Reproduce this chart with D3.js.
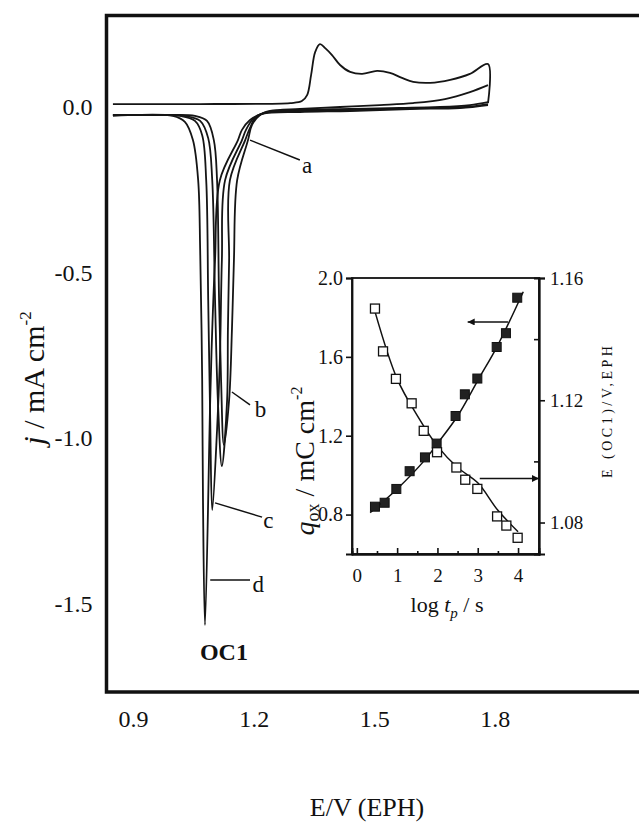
<!DOCTYPE html>
<html><head><meta charset="utf-8">
<script src="https://cdn.jsdelivr.net/npm/d3@7"></script>
<style>
body{margin:0;background:#fff}
svg{display:block}
text{font-family:"Liberation Serif","Times New Roman",serif;fill:#111}
</style>
</head><body><svg id="chart" width="639" height="823"></svg>
<script>
// ---------- main chart data ----------
const xTicks = [0.9, 1.2, 1.5, 1.8];
const yTicks = [0, -0.5, -1.0, -1.5];
const yTickLabels = ["0.0", "-0.5", "-1.0", "-1.5"];

// anodic sweep (E / V, j / mA cm-2)
const anodicSweep = [[0.850,0.009],[1.067,0.009],[1.291,0.012],[1.320,0.018],[1.333,0.036],[1.343,0.097],[1.353,0.166],[1.365,0.190],[1.378,0.178],[1.395,0.157],[1.415,0.127],[1.440,0.106],[1.470,0.100],[1.507,0.109],[1.539,0.103],[1.569,0.088],[1.597,0.076],[1.639,0.073],[1.689,0.082],[1.738,0.100],[1.783,0.130],[1.783,0.012]];

// cathodic sweeps a-d
const curveA = [[1.783,0.066],[1.738,0.045],[1.676,0.024],[1.597,0.012],[1.514,0.006],[1.415,0.000],[1.315,-0.006],[1.241,-0.012],[1.216,-0.024],[1.196,-0.054],[1.186,-0.100],[1.159,-0.221],[1.151,-0.462],[1.146,-0.674],[1.139,-0.885],[1.126,-1.021],[1.119,-0.825],[1.114,-0.583],[1.109,-0.221],[1.101,-0.100],[1.084,-0.042],[1.054,-0.027],[0.992,-0.024],[0.850,-0.024]];
const curveB = [[1.783,0.015],[1.738,0.006],[1.664,0.000],[1.564,-0.003],[1.440,-0.006],[1.315,-0.009],[1.236,-0.015],[1.206,-0.030],[1.191,-0.063],[1.179,-0.100],[1.141,-0.221],[1.139,-0.462],[1.136,-0.674],[1.134,-0.885],[1.121,-1.085],[1.111,-0.885],[1.104,-0.583],[1.097,-0.221],[1.087,-0.094],[1.067,-0.042],[1.029,-0.027],[0.942,-0.024],[0.850,-0.024]];
const curveC = [[1.783,0.009],[1.726,0.000],[1.614,-0.003],[1.465,-0.009],[1.315,-0.012],[1.228,-0.018],[1.199,-0.036],[1.181,-0.069],[1.171,-0.100],[1.129,-0.221],[1.121,-0.462],[1.116,-0.764],[1.109,-0.976],[1.097,-1.218],[1.092,-0.946],[1.087,-0.583],[1.082,-0.221],[1.072,-0.085],[1.054,-0.042],[1.017,-0.027],[0.917,-0.024],[0.850,-0.027]];
const curveD = [[1.783,0.006],[1.713,-0.003],[1.589,-0.006],[1.440,-0.012],[1.315,-0.015],[1.221,-0.021],[1.191,-0.039],[1.171,-0.069],[1.161,-0.100],[1.116,-0.221],[1.104,-0.462],[1.097,-0.674],[1.092,-0.885],[1.079,-1.565],[1.074,-1.187],[1.072,-0.825],[1.067,-0.432],[1.062,-0.221],[1.049,-0.100],[1.029,-0.045],[0.999,-0.027],[0.893,-0.024],[0.850,-0.024]];

// curve labels: pointer start, pointer end, label position (E, j)
const curveLabelNames = ["a","b","c","d"];
const pointerFrom = [[1.191,-0.100],[1.146,-0.861],[1.104,-1.196],[1.092,-1.429]];
const pointerTo   = [[1.315,-0.160],[1.191,-0.900],[1.221,-1.239],[1.191,-1.429]];
const labelAt     = [[1.320,-0.199],[1.203,-0.937],[1.224,-1.272],[1.197,-1.465]];
const peakLabel = "OC1";
const peakLabelAt = [1.126,-1.671];

// ---------- inset data ----------
const insetXTicks = [0,1,2,3,4];
const insetXMinor = [0.5,1.5,2.5,3.5];
const insetYLTicks = [0.8,1.2,1.6,2.0];
const insetYRTicks = [1.08,1.12,1.16];
const insetYRMinor = [1.10,1.14];
const logTp = [0.45,0.69,0.98,1.31,1.69,1.98,2.45,2.68,2.99,3.47,3.70,3.98];
const qOx = [0.84,0.86,0.93,1.02,1.09,1.16,1.30,1.41,1.49,1.65,1.72,1.90];
const logTpE = [0.45,0.65,0.97,1.36,1.66,1.99,2.47,2.69,2.99,3.48,3.71,3.99];
const eOC1 = [1.150,1.136,1.127,1.119,1.110,1.103,1.098,1.094,1.091,1.082,1.079,1.075];
const qFit = [[0.33,0.81],[1.0,0.93],[1.7,1.08],[2.0,1.16],[2.5,1.30],[3.0,1.48],[3.5,1.66],[4.13,1.93]];
const eFit = [[0.45,1.149],[1.0,1.127],[1.5,1.115],[2.0,1.105],[2.5,1.098],[3.0,1.093],[3.5,1.084],[4.0,1.077]];
const arrowLeft = [[3.75,1.777],[2.75,1.777]];
const arrowRight = [[3.05,1.0944],[4.52,1.0944]];

// ---------- drawing ----------
const svg = d3.select("#chart");
const defs = svg.append("defs");
defs.append("marker").attr("id","ah").attr("viewBox","0 0 10 10").attr("refX",10).attr("refY",5)
  .attr("markerWidth",10).attr("markerHeight",7).attr("markerUnits","userSpaceOnUse").attr("orient","auto")
  .append("path").attr("d","M0,0L10,5L0,10Z").attr("fill","#111");

const x = d3.scaleLinear().domain([0.834, 2.178]).range([106.5, 646.8]);
const y = d3.scaleLinear().domain([0.2765, -1.7674]).range([15.5, 692]);

const line = d3.line().x(d=>x(d[0])).y(d=>y(d[1])).curve(d3.curveCatmullRom.alpha(0.5));

[anodicSweep, curveA, curveB, curveC, curveD].forEach(c=>{
  svg.append("path").attr("d", line(c)).attr("fill","none").attr("stroke","#151515")
    .attr("stroke-width",1.8).attr("stroke-linejoin","round");
});

// frame
svg.append("rect").attr("x",x(0.834)).attr("y",y(0.2765))
  .attr("width",x(2.178)-x(0.834)).attr("height",y(-1.7674)-y(0.2765))
  .attr("fill","none").attr("stroke","#111").attr("stroke-width",3.5);

// axes
const serif = "'Liberation Serif','Times New Roman',serif";
const gx = svg.append("g").attr("transform",`translate(0,${y(-1.7674)})`)
  .call(d3.axisBottom(x).tickValues(xTicks).tickSize(0).tickFormat(d3.format(".1f")));
gx.select(".domain").remove();
gx.selectAll("text").attr("y",35).attr("dy",null).style("font-size","24px")
  .style("font-family",serif).attr("fill","#111");

const gy = svg.append("g").attr("transform",`translate(${x(0.834)},0)`)
  .call(d3.axisLeft(y).tickValues(yTicks).tickSize(0).tickFormat((d,i)=>yTickLabels[i]));
gy.select(".domain").remove();
gy.selectAll("text").attr("x",-14).style("font-size","24px")
  .style("font-family",serif).attr("fill","#111");

// axis titles
svg.append("text").attr("x",367).attr("y",816).attr("text-anchor","middle")
  .style("font-size","26px").text("E/V (EPH)");
const yt = svg.append("text").attr("transform","translate(44,378) rotate(-90)")
  .attr("text-anchor","middle").style("font-size","30px");
yt.append("tspan").style("font-style","italic").text("j");
yt.append("tspan").text(" / mA cm");
yt.append("tspan").attr("dy",-13).style("font-size","17px").text("-2");

// curve labels
curveLabelNames.forEach((n,i)=>{
  svg.append("line").attr("x1",x(pointerFrom[i][0])).attr("y1",y(pointerFrom[i][1]))
    .attr("x2",x(pointerTo[i][0])).attr("y2",y(pointerTo[i][1]))
    .attr("stroke","#111").attr("stroke-width",1.5);
  svg.append("text").attr("x",x(labelAt[i][0])).attr("y",y(labelAt[i][1]))
    .style("font-size","23px").text(n);
});
svg.append("text").attr("x",x(peakLabelAt[0])).attr("y",y(peakLabelAt[1]))
  .attr("text-anchor","middle").style("font-size","24px").style("font-weight","bold").text(peakLabel);

// ---------- inset ----------
const ix = d3.scaleLinear().domain([-0.12, 4.52]).range([352, 539]);
const iyL = d3.scaleLinear().domain([0.6, 2.0]).range([554, 278]);
const iyR = d3.scaleLinear().domain([1.0697, 1.16]).range([554, 278]);

const ins = svg.append("g");
ins.append("rect").attr("x",352).attr("y",278).attr("width",539-352).attr("height",554-278)
  .attr("fill","#fff").attr("stroke","#111").attr("stroke-width",1.8);

const gl = ins.append("g").attr("transform","translate(352,0)")
  .call(d3.axisLeft(iyL).tickValues(insetYLTicks).tickSize(6).tickPadding(3).tickFormat(d3.format(".1f")));
const gb = ins.append("g").attr("transform","translate(0,554)")
  .call(d3.axisBottom(ix).tickValues(insetXTicks).tickSize(-6).tickPadding(0).tickFormat(d3.format("d")));
gb.selectAll("text").attr("y",28).attr("dy",null);
const gbm = ins.append("g").attr("transform","translate(0,554)")
  .call(d3.axisBottom(ix).tickValues(insetXMinor).tickSize(-3).tickFormat(""));
const gr = ins.append("g").attr("transform","translate(539,0)")
  .call(d3.axisRight(iyR).tickValues(insetYRTicks).tickSize(6).tickPadding(5).tickFormat(d3.format(".2f")));
const grm = ins.append("g").attr("transform","translate(539,0)")
  .call(d3.axisRight(iyR).tickValues(insetYRMinor).tickSize(-5).tickFormat(""));
[gl,gb,gbm,gr,grm].forEach(g=>{
  g.select(".domain").attr("stroke","#111").attr("stroke-width",1.8);
  g.selectAll(".tick line").attr("stroke","#111").attr("stroke-width",1.6);
  g.selectAll("text").style("font-family",serif).attr("fill","#111");
});
gl.selectAll("text").style("font-size","20px");
gb.selectAll("text").style("font-size","19px");
gr.selectAll("text").style("font-size","19px");

const fitLine = (sy)=>d3.line().x(d=>ix(d[0])).y(d=>sy(d[1])).curve(d3.curveCatmullRom.alpha(0.5));
ins.append("path").attr("d",fitLine(iyL)(qFit)).attr("fill","none").attr("stroke","#111").attr("stroke-width",1.5);
ins.append("path").attr("d",fitLine(iyR)(eFit)).attr("fill","none").attr("stroke","#111").attr("stroke-width",1.5);

const sq = 9;
ins.selectAll("rect.filled").data(logTp.map((v,i)=>[v,qOx[i]])).join("rect").attr("class","filled")
  .attr("x",d=>ix(d[0])-sq/2).attr("y",d=>iyL(d[1])-sq/2).attr("width",sq).attr("height",sq)
  .attr("fill","#222").attr("stroke","#111").attr("stroke-width",1);
ins.selectAll("rect.open").data(logTpE.map((v,i)=>[v,eOC1[i]])).join("rect").attr("class","open")
  .attr("x",d=>ix(d[0])-sq/2).attr("y",d=>iyR(d[1])-sq/2).attr("width",sq).attr("height",sq)
  .attr("fill","#fff").attr("stroke","#111").attr("stroke-width",1.3);

ins.append("line").attr("x1",ix(arrowLeft[0][0])).attr("y1",iyL(arrowLeft[0][1]))
  .attr("x2",ix(arrowLeft[1][0])).attr("y2",iyL(arrowLeft[1][1]))
  .attr("stroke","#111").attr("stroke-width",1.5).attr("marker-end","url(#ah)");
ins.append("line").attr("x1",ix(arrowRight[0][0])).attr("y1",iyR(arrowRight[0][1]))
  .attr("x2",ix(arrowRight[1][0])).attr("y2",iyR(arrowRight[1][1]))
  .attr("stroke","#111").attr("stroke-width",1.5).attr("marker-end","url(#ah)");

// inset titles
const xt = ins.append("text").attr("x",447).attr("y",612).attr("text-anchor","middle").style("font-size","22px");
xt.append("tspan").text("log ");
xt.append("tspan").style("font-style","italic").text("t");
xt.append("tspan").attr("dy",6).style("font-size","15px").style("font-style","italic").text("p");
xt.append("tspan").attr("dy",-6).text(" / s");

const qt = ins.append("text").attr("transform","translate(314,461) rotate(-90)").attr("text-anchor","middle").style("font-size","28px");
qt.append("tspan").style("font-style","italic").text("q");
qt.append("tspan").attr("dy",5).style("font-size","18px").text("ox");
qt.append("tspan").attr("dy",-5).text(" / mC cm");
qt.append("tspan").attr("dy",-12).style("font-size","16px").text("-2");

ins.append("text").attr("transform","translate(612,412) rotate(-90)").attr("text-anchor","middle")
  .style("font-size","14px").style("font-family",serif).attr("textLength",132).attr("lengthAdjust","spacing").text("E (OC1)/V,EPH");
</script>
</body></html>
